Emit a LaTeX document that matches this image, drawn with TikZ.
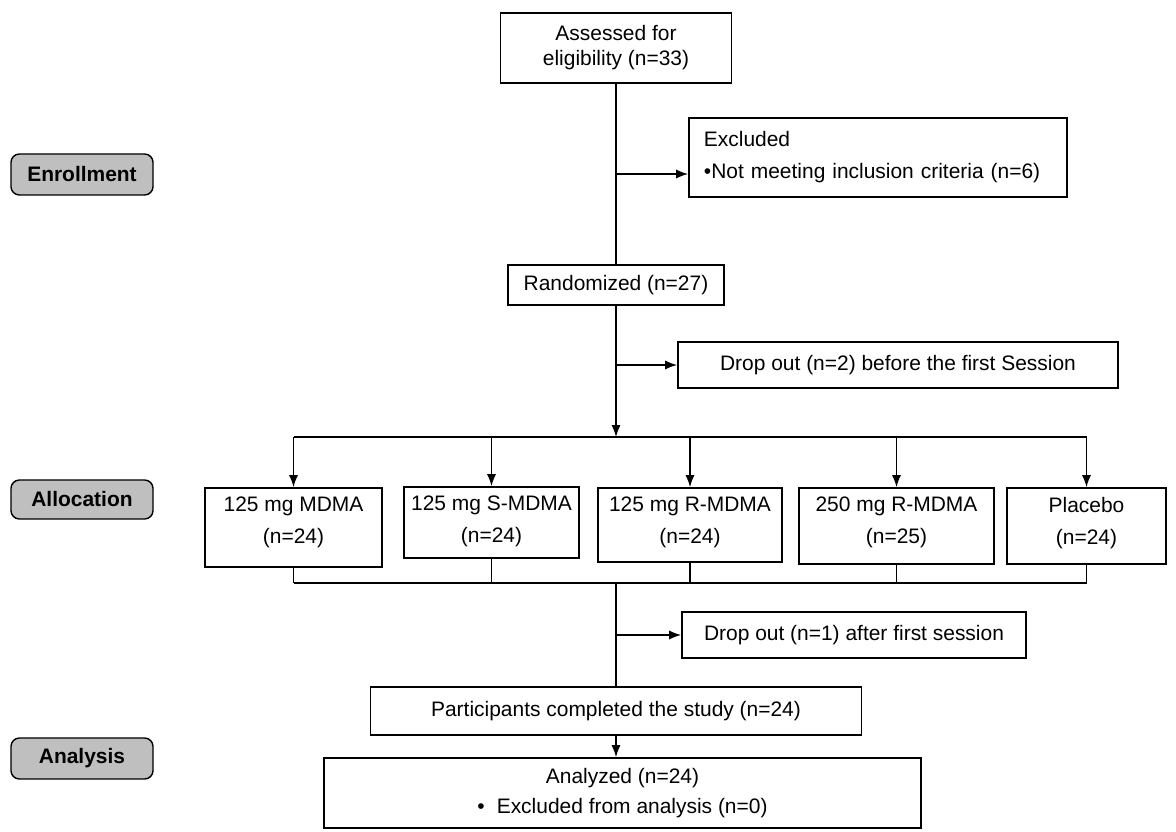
\documentclass[tikz,border=0pt]{standalone}
\usepackage{fontspec}
\setmainfont{Liberation Sans}
\usepackage{tikz}
\usetikzlibrary{arrows.meta,positioning}

\begin{document}
\begin{tikzpicture}[x=0.025cm,y=-0.025cm,>={Latex[length=8.5pt,width=6.5pt]},line width=1pt]
       \tikzstyle{every node}=[font=\fontsize{14.9}{22.7}\selectfont]
       \tikzstyle{box}=[draw,line width=1.2pt,inner sep=0pt,align=center]
       \tikzstyle{stage}=[draw,rounded corners=6pt,fill={rgb:black,1;white,3},inner sep=0pt,minimum width=3.55cm,font=\fontsize{14.9}{18}\selectfont\bfseries]
       \useasboundingbox (0,0) rectangle (1176,832);

       \node[stage, minimum height=1.025cm] (l_1) at (82,174.5) {Enrollment};
       \node[stage, minimum height=0.975cm] (l_2) at (82,499.5) {Allocation};
       \node[stage, minimum height=1.025cm] (l_3) at (82,758.5) {Analysis};

       \node[box, minimum width=5.775cm, minimum height=1.75cm, font=\fontsize{14.9}{17.7}\selectfont] (a_0) at (616,48) {Assessed for\\eligibility (n=33)};
       \node[box, minimum width=9.45cm, minimum height=1.975cm, text width=8.7cm, align=left] (e_0) at (878,157.5) {Excluded\\\textbullet Not meeting inclusion criteria (n=6)};
       \node[box, minimum width=5.4cm, minimum height=1cm] (r_0) at (616,285) {Randomized (n=27)};
       \node[box, minimum width=11cm, minimum height=1.15cm] (d_2) at (898,365) {Drop out (n=2) before the first Session};

       \node[box, minimum width=4.425cm, minimum height=1.975cm, text depth=0.35cm] (g_1) at (293.5,527.5) {125 mg MDMA\\(n=24)};
       \node[box, minimum width=4.375cm, minimum height=1.775cm, text depth=0.15cm] (g_2) at (491.5,522.5) {125 mg S-MDMA\\(n=24)};
       \node[box, minimum width=4.6cm, minimum height=1.85cm, text depth=0.225cm] (g_3) at (690,525) {125 mg R-MDMA\\(n=24)};
       \node[box, minimum width=4.875cm, minimum height=1.9cm, text depth=0.275cm] (g_4) at (896.5,526) {250 mg R-MDMA\\(n=25)};
       \node[box, minimum width=3.975cm, minimum height=1.9cm, text depth=0.275cm] (g_5) at (1086.5,526) {Placebo\\(n=24)};

       \node[box, minimum width=8.6cm, minimum height=1.15cm] (d_1) at (854,635) {Drop out (n=1) after first session};
       \node[box, minimum width=12.275cm, minimum height=1.2cm] (p_0) at (616,711) {Participants completed the study (n=24)};
       \node[box, minimum width=14.925cm, minimum height=1.75cm, font=\fontsize{14.9}{21.3}\selectfont] (n_0) at (622.5,793) {Analyzed (n=24)\\\textbullet\hspace{0.3cm}Excluded from analysis (n=0)};

       \coordinate (j_1) at (616,174);
       \coordinate (b_0) at (616,437);
       \coordinate (b_1) at (616,583);

       \draw (a_0) -- (r_0);
       \draw[->] (j_1) -- (e_0.west |- j_1);
       \draw[->] (r_0) -- (b_0);
       \draw[->] (r_0 |- d_2.west) -- (d_2.west);
       \draw (g_1.north |- b_0) -- (g_5.north |- b_0);
       \foreach \g in {g_1,g_2,g_3,g_4,g_5}
              \draw[->] (\g.north |- b_0) -- (\g.north);
       \foreach \g in {g_1,g_2,g_3,g_4,g_5}
              \draw (\g.south) -- (\g.south |- b_1);
       \draw (g_1.south |- b_1) -- (g_5.south |- b_1);
       \draw (b_1) -- (p_0);
       \draw[->] (b_1 |- d_1.west) -- (d_1.west);
       \draw[->] (p_0.south) -- (p_0.south |- n_0.north);
\end{tikzpicture}
\end{document}
